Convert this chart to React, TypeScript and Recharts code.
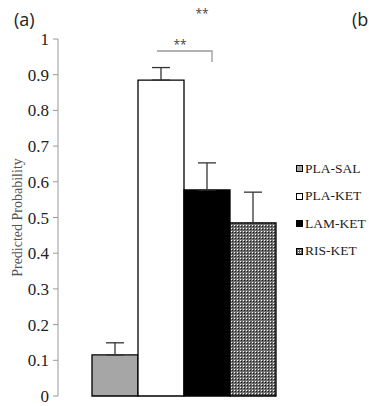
import React from 'react';
import { BarChart, Bar, XAxis, YAxis, ErrorBar } from 'recharts';

const groups = ['PLA-SAL', 'PLA-KET', 'LAM-KET', 'RIS-KET'];
const means = [0.115, 0.885, 0.577, 0.485];
const errors = [0.034, 0.035, 0.076, 0.086];
const fills = ['#a6a6a6', '#ffffff', '#000000', 'url(#checker)'];
const yTicks = [0, 0.1, 0.2, 0.3, 0.4, 0.5, 0.6, 0.7, 0.8, 0.9, 1];

const row: Record<string, any> = { name: '' };
groups.forEach((g, i) => {
    row[g] = means[i];
    row[g + '_err'] = [0, errors[i]];
});
const data = [row];

const serif = 'Liberation Serif, Times New Roman, serif';

const LegendSwatch: React.FC<{ fill: string }> = ({ fill }) => (
    <svg width={7} height={7} style={{ marginRight: 2 }}>
        <defs>
            <pattern id="checkerSmall" width={2} height={2} patternUnits="userSpaceOnUse">
                <rect width={2} height={2} fill="#666" />
                <rect width={1} height={1} fill="#fff" />
            </pattern>
        </defs>
        <rect x={0.5} y={0.5} width={6} height={6} fill={fill === 'url(#checker)' ? 'url(#checkerSmall)' : fill} stroke="#000" strokeWidth={1} />
    </svg>
);

export default function App() {
    return (
        <div style={{ position: 'absolute', left: 0, top: 0, width: 369, height: 406, background: '#fff' }}>
            <BarChart
                width={369}
                height={406}
                data={data}
                margin={{ top: 39, right: 59, bottom: 10, left: 0 }}
                barGap={0}
                barCategoryGap={34}
            >
                <defs>
                    <pattern id="checker" width={3} height={3} patternUnits="userSpaceOnUse">
                        <rect width={3} height={3} fill="#6e6e6e" />
                        <rect x={0} y={0} width={1} height={1} fill="#ffffff" />
                        <rect x={1} y={1} width={1} height={1} fill="#1a1a1a" />
                    </pattern>
                </defs>
                <XAxis dataKey="name" height={0} tick={false} tickLine={false} axisLine={{ stroke: '#999' }} />
                <YAxis
                    width={58}
                    domain={[0, 1]}
                    ticks={yTicks}
                    interval={0}
                    tickSize={5}
                    tickMargin={4}
                    axisLine={{ stroke: '#999' }}
                    tickLine={{ stroke: '#999' }}
                    tick={{ fill: '#222', fontSize: 17, fontFamily: serif }}
                    label={{
                        value: 'Predicted Probability',
                        angle: -90,
                        position: 'insideLeft',
                        offset: 17,
                        textAnchor: 'middle',
                        style: { fill: '#555', fontSize: 14, fontFamily: serif, textAnchor: 'middle' },
                    }}
                />
                {groups.map((g, i) => (
                    <Bar key={g} dataKey={g} fill={fills[i]} stroke="#000" strokeWidth={1.3} isAnimationActive={false}>
                        <ErrorBar dataKey={g + '_err'} width={9} stroke="#333" strokeWidth={1.3} direction="y" />
                    </Bar>
                ))}
            </BarChart>
            <div style={{ position: 'absolute', left: 296, top: 155, fontFamily: serif, fontSize: 13.5, color: '#222' }}>
                {groups.map((g, i) => (
                    <div key={g} style={{ display: 'flex', alignItems: 'center', height: 27.5, lineHeight: '14px' }}>
                        <LegendSwatch fill={fills[i]} />
                        <span>{g}</span>
                    </div>
                ))}
            </div>
            <svg width={369} height={406} style={{ position: 'absolute', left: 0, top: 0, pointerEvents: 'none' }}>
                <text x={14} y={26} fontFamily="Open Sans, sans-serif" fontSize={18} fill="#222">(a)</text>
                <text x={352} y={26} fontFamily="Open Sans, sans-serif" fontSize={18} fill="#222">(b</text>
                <text x={202} y={18} textAnchor="middle" fontFamily="Open Sans, sans-serif" fontSize={12} fill="#444">**</text>
                <text x={180} y={49} textAnchor="middle" fontFamily="Open Sans, sans-serif" fontSize={12} fill="#444">**</text>
                <polyline points="157,51 212,51 212,62" fill="none" stroke="#999" strokeWidth={1.3} />
            </svg>
        </div>
    );
}
